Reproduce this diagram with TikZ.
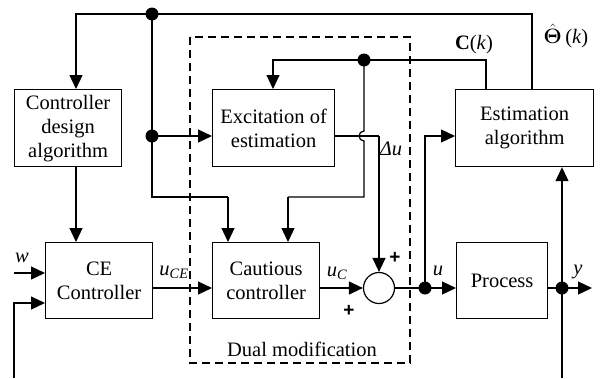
\documentclass[tikz,border=0pt]{standalone}
\usepackage{amsmath}
\usepackage[no-math]{fontspec}
\setmainfont{Liberation Serif}
\newfontfamily\plusfont{Liberation Sans}
\usetikzlibrary{arrows.meta,calc}
\begin{document}
\begin{tikzpicture}[x=1pt,y=-1pt,
  line width=1.2pt,
  font=\fontsize{20.5}{24}\selectfont,
  blk/.style={draw,align=center,inner sep=0pt,anchor=north west},
  arr/.style={-{Triangle[length=14pt,width=13pt]}},
  dotc/.style={circle,fill,inner sep=0pt,minimum size=13pt},
  lbl/.style={inner sep=0pt},
  plus/.style={inner sep=0pt,font=\plusfont\bfseries\fontsize{19}{19}\selectfont}]
\useasboundingbox (0,0) rectangle (605,378);
% dashed region
\draw[dash pattern=on 8pt off 5pt] (190,37) rectangle (410,363);
\node[lbl] (dual) at (302,349) {Dual modification};
% blocks
\node[blk,minimum width=107pt,minimum height=77pt] (cda) at (14,89) {Controller\\design\\algorithm};
\node[blk,minimum width=122pt,minimum height=77pt] (exc) at (212,89) {Excitation of\\estimation};
\node[blk,minimum width=138pt,minimum height=77pt] (est) at (455,89) {Estimation\\algorithm};
\node[blk,minimum width=107pt,minimum height=76pt] (ce) at (45,242) {CE\\Controller};
\node[blk,minimum width=107pt,minimum height=76pt] (cau) at (212,242) {Cautious\\controller};
\node[blk,minimum width=91pt,minimum height=76pt] (proc) at (456,242) {Process};
\node[draw,circle,inner sep=0pt,minimum size=31pt] (sum) at (379,288) {};
% coordinates
\coordinate (t1) at (76,14);
\coordinate (t2) at (532,14);
\coordinate (r1) at (152,136);
\coordinate (j1) at (152,197);
\coordinate (j2) at (228,197);
\coordinate (fbR) at (486,60);
\coordinate (fbL) at (273,60);
\coordinate (j3) at (364,197);
\coordinate (j4) at (288,197);
\coordinate (du1) at (379,136);
\coordinate (m) at (0,288);
\coordinate (w0) at (14,273);
\coordinate (b0) at (14,378);
\coordinate (b1) at (14,303);
\coordinate (yb) at (562,378);
\coordinate (yend) at (592,288);
\coordinate (u1) at (425,136);
% dots
\node[dotc] (dtop) at (152,14) {};
\node[dotc] (dmid) at (r1) {};
\node[dotc] (dfb) at (364,60) {};
\node[dotc] (du) at (425,288) {};
\node[dotc] (dy) at (562,288) {};
% top parameter line
\draw[arr] (est.north -| t2) |- (t1) -- (cda.north -| t1);
\draw (dtop.center) -- (j1) -- (j2);
\draw[arr] (j2) -- (cau.north -| j2);
\draw[arr] (dmid.center) -- (exc.west |- r1);
\draw[arr] (cda.south -| t1) -- (ce.north -| t1);
% C(k) feedback
\draw[arr] (est.north -| fbR) |- (fbL) -- (exc.north -| fbL);
\draw (dfb.center) -- (364,131) arc[start angle=90,end angle=270,radius=5pt] -- (j3) -- (j4);
\draw[arr] (j4) -- (cau.north -| j4);
% delta u
\draw (exc.east |- du1) -- (du1);
\draw[arr] (du1) -- (sum.north);
% main row
\draw[arr] (w0) -- (ce.west |- w0);
\draw[arr] (b0) -- (b1) -- (ce.west |- b1);
\draw[arr] (ce.east |- m) -- (cau.west |- m);
\draw[arr] (cau.east |- m) -- (sum.west);
\draw (sum.east) -- (du.center);
\draw[arr] (du.center) -- (proc.west |- m);
\draw[arr] (du.center) -- (u1) -- (est.west |- u1);
\draw (proc.east |- m) -- (dy.center);
\draw[arr] (dy.center) -- (yend);
\draw[arr] (yb) -- (est.south -| yb);
% labels
\node[lbl] (lw) at (22,258) {\textit{w}};
\node[lbl] (luce) at (174,272) {\textit{u}$_{\textit{CE}}$};
\node[lbl] (luc) at (337,273) {\textit{u}$_{\textit{C}}$};
\node[lbl] (lu) at (438,271) {\textit{u}};
\node[lbl] (ly) at (578,272) {\textit{y}};
\node[lbl] (lck) at (474,45) {\textbf{C}(\textit{k})};
\node[lbl] (lth) at (566,36) {$\hat{\mathbf{\Theta}}$\,(\textit{k})};
\node[lbl] (ldu) at (391,149) {\textit{Δu}};
\node[plus] (p1) at (395,258) {+};
\node[plus] (p2) at (349,311) {+};
\end{tikzpicture}
\end{document}
